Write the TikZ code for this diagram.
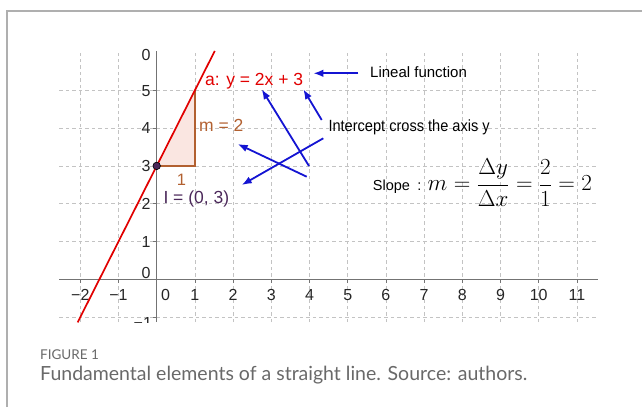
\RequirePackage{fix-cm}
\documentclass[tikz,border=0pt]{standalone}
\usepackage[no-math]{fontspec}
\setmainfont{Liberation Sans}
\newfontfamily\capfont{Lato}
\usetikzlibrary{arrows.meta}
\definecolor{gridc}{RGB}{195,195,195}
\definecolor{axisc}{RGB}{115,115,115}
\definecolor{linered}{RGB}{225,0,0}
\definecolor{slopebrown}{RGB}{178,96,48}
\definecolor{tripink}{RGB}{250,230,225}
\definecolor{ptpurple}{RGB}{75,40,90}
\definecolor{arrowblue}{RGB}{20,20,210}
\definecolor{capgray}{RGB}{105,105,105}
\definecolor{framegray}{RGB}{175,175,175}
\begin{document}
\begin{tikzpicture}[x=1pt,y=-1pt,
  gridline/.style={gridc, dash pattern=on 3.5pt off 3pt, line width=0.75pt},
  axisline/.style={axisc, line width=1.3pt},
  ticklab/.style={font=\fontsize{16}{16}\selectfont, text=black!85, inner sep=0pt},
  bluearrow/.style={arrowblue, line width=1.8pt, -{Latex[length=10pt,width=7.5pt]}},
  lbl/.style={inner sep=0pt, anchor=base west}]
\useasboundingbox (0,0) rectangle (642,407);
\draw[framegray, line width=1.2pt] (7,407) -- (7,11) -- (642,11);
\begin{scope}[shift={(156.7,279.3)}, x=38.2pt, y=37.8pt]
  \clip (-2.7,-1.15) rectangle (11.7,6.2);
  \foreach \i in {-2,-1,1,2,3,4,5,6,7,8,9,10,11}
    \draw[gridline] (\i,-1.13) -- (\i,6);
  \foreach \j in {-1,1,2,3,4,5}
    \draw[gridline] (-2.55,\j) -- (11.55,\j);
  \draw[axisline] (-2.55,0) -- (11.55,0);
  \draw[axisline] (0,-1.13) -- (0,6.03);
  \foreach \i in {-2,-1,1,2,3,4,5,6,7,8,9,10,11}
    \draw[axisc, line width=0.8pt] (\i,0) -- (\i,-0.09);
  \foreach \j in {-1,1,2,3,4,5}
    \draw[axisc, line width=0.8pt] (0,\j) -- (-0.09,\j);
  % x labels
  \foreach \i/\t in {-2/−2,-1/−1,1/1,2/2,3/3,4/4,5/5,6/6,7/7,8/8,9/9,10/10,11/11}
    \node[ticklab, anchor=base] (xl\i) at (\i,-0.548) {\t};
  \node[ticklab, anchor=base] (xl0) at (0.235,-0.548) {0};
  % y labels
  \foreach \j in {1,2,3,4,5}
    \node[ticklab, anchor=base east] (yl\j) at (-0.155,\j-0.153) {\j};
  \node[ticklab, anchor=base east] (yltop) at (-0.155,5.78) {0};
  \node[ticklab, anchor=base east] (ylzero) at (-0.155,0.026) {0};
  \node[ticklab, anchor=base east] (ylm) at (-0.12,-1.31) {−1};
  % slope triangle
  \fill[tripink] (0,3) -- (1,3) -- (1,5) -- cycle;
  \draw[slopebrown, line width=1.2pt] (0,3) -- (1,3) -- (1,5);
  % line
  \draw[linered, line width=1.7pt] (-2.07,-1.14) -- (1.52,6.04);
  \node[circle, fill=ptpurple, draw=black, line width=0.6pt, inner sep=0pt, minimum size=7.5pt] (I) at (0,3) {};
\end{scope}
% labels
\node[lbl, text=linered, font=\fontsize{17.5}{18}\selectfont] (alab) at (205,85) {a: y = 2x + 3};
\node[lbl, text=slopebrown, font=\fontsize{17.5}{18}\selectfont] (mlab) at (199,131.7) {m = 2};
\node[inner sep=0pt, anchor=base, text=slopebrown, font=\fontsize{16.5}{17}\selectfont] (onelab) at (181.5,185.5) {1};
\node[lbl, text=ptpurple, font=\fontsize{17.5}{18}\selectfont] (ilab) at (163.3,203.3) {I = (0, 3)};
\node[lbl, font=\fontsize{15}{16}\selectfont] (lineal) at (370,77.3) {Lineal function};
\node[lbl, font=\fontsize{16.2}{17}\selectfont] (intercept) at (328.3,131) {\scalebox{0.9}[1]{Intercept cross the axis y}};
\node[lbl, font=\fontsize{14.5}{15}\selectfont] (slope) at (372.7,190) {Slope\hspace{7.5pt}:};
\node[lbl, font=\fontsize{23}{27}\selectfont] (formula) at (427.5,190.5) {$\displaystyle m=\frac{\Delta y}{\Delta x}=\frac{2}{1}=2$};
% arrows
\coordinate (as) at (309,166);   \coordinate (ae) at (261.7,89.3);
\coordinate (bs) at (321.7,120); \coordinate (be) at (303.3,89.3);
\coordinate (cs) at (306.7,176.7); \coordinate (ce) at (237.7,144);
\coordinate (ds) at (323.3,138.3); \coordinate (de) at (241.7,185);
\coordinate (es) at (358.3,73.3); \coordinate (ee) at (313.3,73.3);
\draw[bluearrow] (as) -- (ae);
\draw[bluearrow] (bs) -- (be);
\draw[bluearrow] (cs) -- (ce);
\draw[bluearrow] (ds) -- (de);
\draw[bluearrow] (es) -- (ee);
% caption
\node[lbl, text=capgray, font=\capfont\fontsize{13.5}{14}\selectfont] (figlab) at (40,359) {FIGURE 1};
\node[lbl, text=capgray, font=\capfont\fontsize{19.5}{21}\selectfont] (caption) at (40,380) {Fundamental elements of a straight line. Source: authors.};
\end{tikzpicture}
\end{document}
